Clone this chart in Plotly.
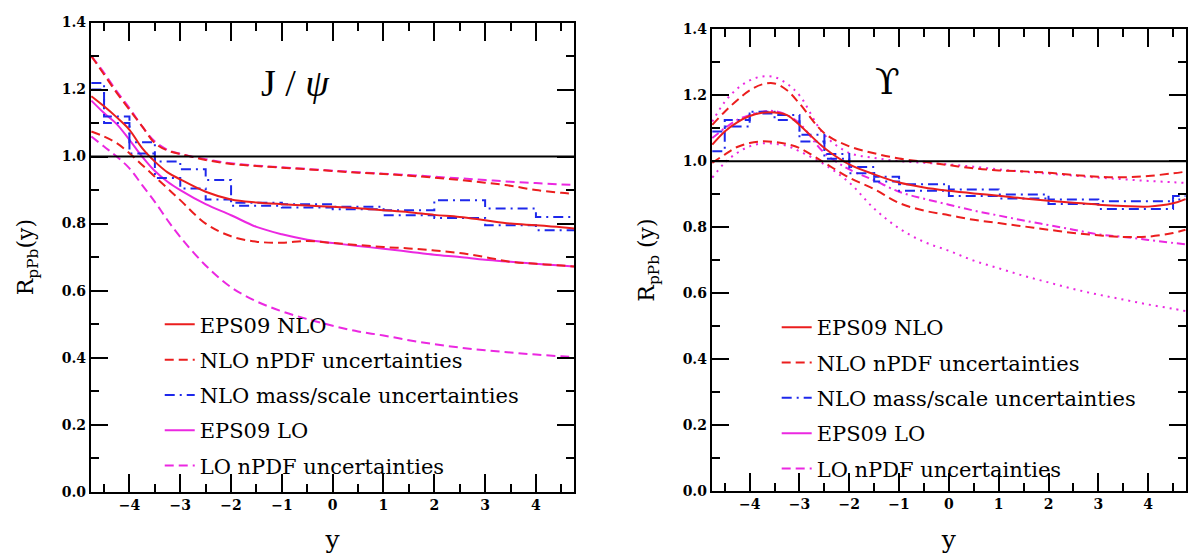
import plotly.graph_objects as go

# ---------------- data ----------------
y_grid = [-4.75, -4.5, -4.25, -4.0, -3.75, -3.5, -3.25, -3.0, -2.5, -2.0, -1.5, -1.0,
          -0.5, 0.0, 0.5, 1.0, 1.5, 2.0, 2.5, 3.0, 3.5, 4.0, 4.5, 4.75]

# J/psi panel
jpsi_nlo = [1.18, 1.15, 1.117, 1.08, 1.025, 0.985, 0.953, 0.932, 0.895, 0.872, 0.863, 0.858,
            0.854, 0.85, 0.846, 0.84, 0.834, 0.826, 0.82, 0.81, 0.80, 0.795, 0.789, 0.785]
jpsi_nlo_up = [1.30, 1.245, 1.19, 1.14, 1.09, 1.04, 1.018, 1.008, 0.99, 0.978, 0.972, 0.967,
               0.962, 0.957, 0.952, 0.948, 0.943, 0.937, 0.93, 0.922, 0.913, 0.90, 0.892, 0.889]
jpsi_nlo_lo = [1.075, 1.06, 1.04, 1.01, 0.975, 0.94, 0.905, 0.87, 0.80, 0.762, 0.746, 0.743,
               0.748, 0.742, 0.736, 0.73, 0.726, 0.72, 0.712, 0.70, 0.686, 0.68, 0.675, 0.672]
jpsi_lo = [1.167, 1.13, 1.097, 1.05, 1.0, 0.957, 0.925, 0.90, 0.858, 0.825, 0.79, 0.768,
           0.752, 0.742, 0.733, 0.725, 0.716, 0.707, 0.70, 0.692, 0.686, 0.68, 0.675, 0.672]
jpsi_lo_up = [1.30, 1.25, 1.195, 1.145, 1.09, 1.045, 1.02, 1.008, 0.992, 0.98, 0.973, 0.968,
              0.963, 0.958, 0.953, 0.949, 0.945, 0.94, 0.935, 0.93, 0.925, 0.921, 0.917, 0.915]
jpsi_lo_lo = [1.06, 1.03, 1.0, 0.965, 0.915, 0.865, 0.81, 0.76, 0.675, 0.61, 0.568, 0.538,
              0.515, 0.495, 0.478, 0.466, 0.452, 0.44, 0.43, 0.422, 0.415, 0.409, 0.404, 0.402]
jpsi_bin_edges = [-4.75, -4.5, -4.0, -3.5, -3.0, -2.5, -2.0, -1.0, 0.0, 1.0, 2.0, 3.0, 4.0, 4.75]
jpsi_scale_up = [1.22, 1.12, 1.043, 0.985, 0.962, 0.93, 0.862, 0.858, 0.85, 0.84, 0.87, 0.845, 0.82]
jpsi_scale_lo = [1.20, 1.10, 1.009, 0.936, 0.905, 0.872, 0.853, 0.848, 0.843, 0.825, 0.817, 0.795, 0.78]

# Upsilon panel
ups_nlo = [1.05, 1.09, 1.118, 1.137, 1.147, 1.148, 1.14, 1.11, 1.04, 0.99, 0.96, 0.935,
           0.92, 0.91, 0.902, 0.895, 0.887, 0.88, 0.874, 0.868, 0.864, 0.862, 0.872, 0.885]
ups_nlo_up = [1.11, 1.15, 1.185, 1.215, 1.233, 1.236, 1.215, 1.175, 1.085, 1.045, 1.024, 1.008,
              0.998, 0.988, 0.978, 0.972, 0.969, 0.965, 0.958, 0.953, 0.951, 0.955, 0.963, 0.968]
ups_nlo_lo = [0.995, 1.02, 1.043, 1.055, 1.06, 1.058, 1.052, 1.04, 0.995, 0.95, 0.915, 0.873,
              0.85, 0.836, 0.822, 0.812, 0.802, 0.792, 0.782, 0.775, 0.77, 0.771, 0.782, 0.792]
ups_lo = [1.07, 1.10, 1.125, 1.14, 1.15, 1.152, 1.14, 1.115, 1.025, 0.975, 0.942, 0.907,
          0.886, 0.868, 0.85, 0.835, 0.82, 0.806, 0.792, 0.778, 0.77, 0.761, 0.752, 0.748]
ups_lo_up = [1.12, 1.18, 1.22, 1.245, 1.257, 1.255, 1.235, 1.20, 1.08, 1.025, 1.01, 1.0,
             0.995, 0.99, 0.983, 0.975, 0.968, 0.962, 0.956, 0.95, 0.945, 0.94, 0.936, 0.934]
ups_lo_lo = [0.95, 0.995, 1.025, 1.045, 1.054, 1.053, 1.046, 1.03, 0.99, 0.935, 0.856, 0.796,
             0.755, 0.728, 0.698, 0.675, 0.652, 0.632, 0.612, 0.595, 0.58, 0.565, 0.552, 0.545]
ups_bin_edges = [-4.75, -4.5, -4.0, -3.5, -3.0, -2.5, -2.0, -1.5, -1.0, 0.0, 1.0, 2.0, 3.0, 4.5, 4.75]
ups_scale_up = [1.09, 1.125, 1.15, 1.14, 1.08, 1.022, 0.982, 0.953, 0.93, 0.914, 0.899, 0.884, 0.878, 0.894]
ups_scale_lo = [1.03, 1.105, 1.145, 1.125, 1.06, 1.007, 0.963, 0.938, 0.91, 0.894, 0.887, 0.87, 0.855, 0.884]

legend_names = ["EPS09 NLO", "NLO nPDF uncertainties", "NLO mass/scale uncertainties",
                "EPS09 LO", "LO nPDF uncertainties"]
x_ticks = [-4, -3, -2, -1, 0, 1, 2, 3, 4]
y_ticks = [0.0, 0.2, 0.4, 0.6, 0.8, 1.0, 1.2, 1.4]

# ---------------- styles ----------------
RED = "rgb(235,30,30)"
MAG = "rgb(235,40,225)"
BLUE = "rgb(30,40,235)"
DASH = "9px,5px"
DASHDOT = "10px,5px,2px,5px"
DOT = "2px,5px"
SERIF = "DejaVu Serif"
W_LINE = 2

fig = go.Figure()


def steps(edges, vals):
    return list(edges), list(vals) + [vals[-1]]


def add_panel(xa, ya, leg, nlo, nlo_up, nlo_lo, lo, lo_up, lo_lo, edges, s_up, s_lo, ups):
    lo_dash = "8px,4px,2px,4px" if ups else "solid"
    lo_unc_dash = DOT if ups else DASH
    fig.add_trace(go.Scatter(x=y_grid, y=lo, mode="lines", line=dict(color=MAG, width=W_LINE, dash=lo_dash, shape="spline"),
                             xaxis=xa, yaxis=ya, legend=leg, name=legend_names[3], legendgroup=leg + "d",
                             showlegend=not ups, legendrank=4))
    for i, arr in enumerate([lo_up, lo_lo]):
        fig.add_trace(go.Scatter(x=y_grid, y=arr, mode="lines", line=dict(color=MAG, width=W_LINE, dash=lo_unc_dash, shape="spline"),
                                 xaxis=xa, yaxis=ya, legend=leg, name=legend_names[4], legendgroup=leg + "e",
                                 showlegend=(i == 0 and not ups), legendrank=5))
    if ups:
        fig.add_trace(go.Scatter(x=[None], y=[None], mode="lines", line=dict(color=MAG, width=W_LINE),
                                 xaxis=xa, yaxis=ya, legend=leg, name=legend_names[3], legendgroup=leg + "d", legendrank=4))
        fig.add_trace(go.Scatter(x=[None], y=[None], mode="lines", line=dict(color=MAG, width=W_LINE, dash=DASH),
                                 xaxis=xa, yaxis=ya, legend=leg, name=legend_names[4], legendgroup=leg + "e", legendrank=5))
    for i, arr in enumerate([s_up, s_lo]):
        sx, sy = steps(edges, arr)
        fig.add_trace(go.Scatter(x=sx, y=sy, mode="lines", line=dict(color=BLUE, width=W_LINE, dash=DASHDOT, shape="hv"),
                                 xaxis=xa, yaxis=ya, legend=leg, name=legend_names[2], legendgroup=leg + "c",
                                 showlegend=(i == 0), legendrank=3))
    for i, arr in enumerate([nlo_up, nlo_lo]):
        fig.add_trace(go.Scatter(x=y_grid, y=arr, mode="lines", line=dict(color=RED, width=W_LINE, dash=DASH, shape="spline"),
                                 xaxis=xa, yaxis=ya, legend=leg, name=legend_names[1], legendgroup=leg + "b",
                                 showlegend=(i == 0), legendrank=2))
    fig.add_trace(go.Scatter(x=y_grid, y=nlo, mode="lines", line=dict(color=RED, width=W_LINE, shape="spline"),
                             xaxis=xa, yaxis=ya, legend=leg, name=legend_names[0], legendgroup=leg + "a", legendrank=1))


add_panel("x", "y", "legend", jpsi_nlo, jpsi_nlo_up, jpsi_nlo_lo, jpsi_lo, jpsi_lo_up, jpsi_lo_lo,
          jpsi_bin_edges, jpsi_scale_up, jpsi_scale_lo, False)
add_panel("x2", "y2", "legend2", ups_nlo, ups_nlo_up, ups_nlo_lo, ups_lo, ups_lo_up, ups_lo_lo,
          ups_bin_edges, ups_scale_up, ups_scale_lo, True)

fig.add_hline(y=1.0, line=dict(color="black", width=2), xref="x", yref="y")
fig.add_hline(y=1.0, line=dict(color="black", width=2), xref="x2", yref="y2")

W, H = 1188, 554
TICKFONT = dict(family=SERIF, size=14, color="black", weight="bold")


def xax(domain, rng):
    return dict(domain=domain, range=rng, tickmode="array", tickvals=x_ticks,
                ticks="inside", ticklen=18, tickwidth=2, tickcolor="black",
                minor=dict(dtick=0.5, tick0=0, ticklen=8, tickwidth=2, tickcolor="black", ticks="inside"),
                showline=True, linecolor="black", linewidth=2, mirror="allticks",
                showgrid=False, zeroline=False,
                tickfont=TICKFONT,
                title=dict(text="y", font=dict(family=SERIF, size=25, color="black"), standoff=20))


def yax(domain, anchor, title):
    return dict(domain=domain, range=[0, 1.4], anchor=anchor, tickmode="array", tickvals=y_ticks,
                tickformat=".1f",
                ticks="inside", ticklen=17, tickwidth=2, tickcolor="black",
                minor=dict(dtick=0.1, tick0=0, ticklen=8, tickwidth=2, tickcolor="black", ticks="inside"),
                showline=True, linecolor="black", linewidth=2, mirror="allticks",
                showgrid=False, zeroline=False,
                tickfont=TICKFONT,
                title=dict(text=title, font=dict(family=SERIF, size=22, color="black"), standoff=22))


leg_common = dict(font=dict(family=SERIF, size=21, color="black"), bgcolor="rgba(0,0,0,0)",
                  tracegroupgap=5, yanchor="top", xanchor="left", itemclick=False)

fig.update_layout(
    width=W, height=H, margin=dict(l=0, r=0, t=0, b=0),
    paper_bgcolor="white", plot_bgcolor="white",
    xaxis=dict(**xax([91 / W, 575 / W], [-4.76, 4.75]), anchor="y"),
    yaxis=yax([(H - 498) / H, (H - 15) / H], "x", "R<sub>pPb</sub>(y)"),
    xaxis2=dict(**xax([713 / W, 1.0], [-4.76, 4.76]), anchor="y2"),
    yaxis2=yax([(H - 497) / H, (H - 22) / H], "x2", "R<sub>pPb</sub> (y)"),
    legend=dict(x=160 / W, y=(H - 305) / H, **leg_common),
    legend2=dict(x=778 / W, y=(H - 308) / H, **leg_common),
    annotations=[
        dict(text="J / <i>ψ</i>", x=-0.73, y=1.22, xref="x", yref="y", showarrow=False,
             font=dict(family="Liberation Serif", size=38, color="black")),
        dict(text="ϒ", x=-1.24, y=1.243, xref="x2", yref="y2", showarrow=False,
             font=dict(family="DejaVu Serif", size=36, color="black")),
    ],
)

fig.write_html("out.html")
